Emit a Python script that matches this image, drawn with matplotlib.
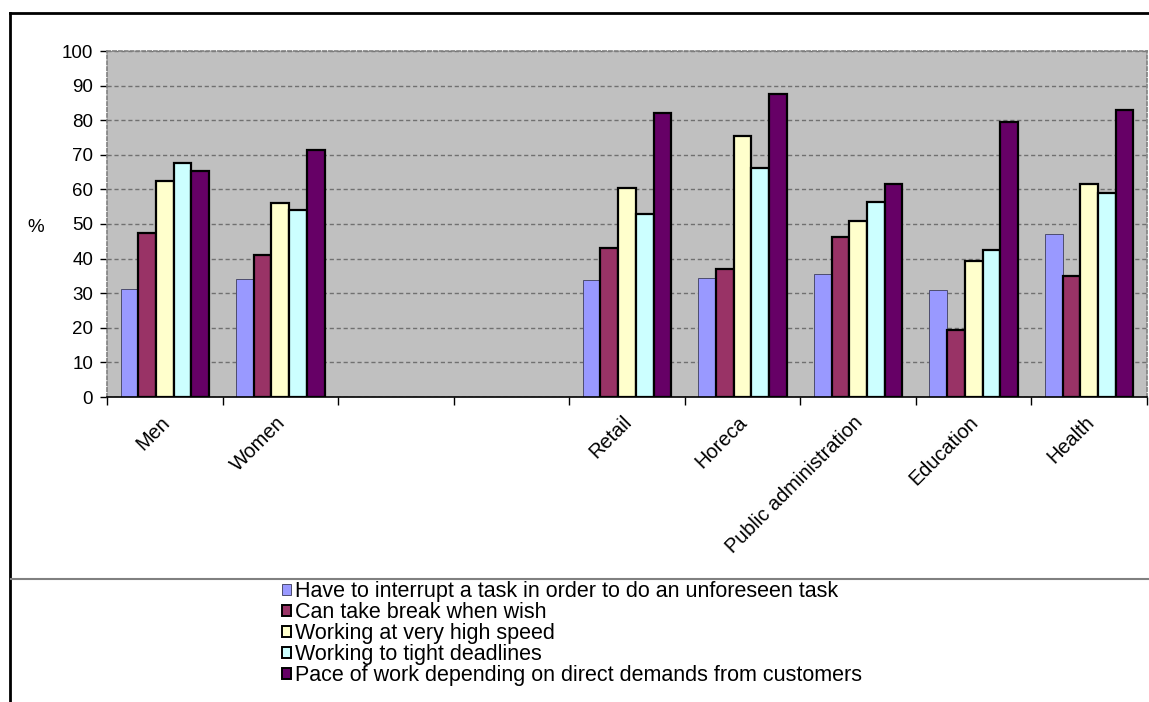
import numpy as np
import matplotlib
matplotlib.use("Agg")
import matplotlib.pyplot as plt
import matplotlib.transforms as mtransforms
from matplotlib.lines import Line2D
from matplotlib.patches import Patch

plt.rcParams['font.family'] = ['Liberation Sans', 'DejaVu Sans']

categories = ['Men', 'Women', '', '', 'Retail', 'Horeca',
              'Public administration', 'Education', 'Health']
series_names = [
    'Have to interrupt a task in order to do an unforeseen task',
    'Can take break when wish',
    'Working at very high speed',
    'Working to tight deadlines',
    'Pace of work depending on direct demands from customers',
]
nan = np.nan
interrupt = [31.1, 34.2, nan, nan, 33.9, 34.5, 35.5, 30.8, 47.1]
take_break = [47.4, 40.9, nan, nan, 43.0, 36.9, 46.2, 19.3, 35.1]
high_speed = [62.3, 56.0, nan, nan, 60.3, 75.3, 51.0, 39.2, 61.7]
deadlines = [67.5, 54.1, nan, nan, 52.8, 66.1, 56.4, 42.6, 58.9]
customers = [65.3, 71.4, nan, nan, 82.1, 87.6, 61.6, 79.5, 82.9]
yticks = list(range(0, 101, 10))

series = [interrupt, take_break, high_speed, deadlines, customers]
colors = ['#9999FF', '#993366', '#FFFFCC', '#CCFFFF', '#660066']
edgecolors = ['#4d4d6e', 'black', 'black', 'black', 'black']
edgewidths = [0.7, 1.6, 1.6, 1.6, 1.6]

W, H = 1149, 702
fig = plt.figure(figsize=(W / 100, H / 100), dpi=100)
fig.patch.set_facecolor('white')

ax = fig.add_axes([107 / W, 1 - 397 / H, (1147 - 107) / W, (397 - 51) / H])
ax.set_facecolor('#C0C0C0')

x = np.arange(len(categories))
bw = 0.153
for i, (vals, c, ec, lw) in enumerate(zip(series, colors, edgecolors, edgewidths)):
    ax.bar(x + (i - 2) * bw, vals, width=bw, color=c, edgecolor=ec,
           linewidth=lw, label=series_names[i], zorder=3)

ax.set_xlim(-0.5, len(categories) - 0.5)
ax.set_ylim(0, 100)
ax.set_yticks(yticks)
ax.set_yticklabels([str(v) for v in yticks], fontsize=13.5)
ax.tick_params(axis='y', direction='out', length=5, width=1, color='black', pad=5)

ax.set_xticks(x)
ax.set_xticklabels(categories, fontsize=14.4, rotation=45,
                   ha='right', va='center', rotation_mode='anchor')
ax.tick_params(axis='x', which='major', length=0, pad=16)
offset = mtransforms.ScaledTranslation(2 / 100, 0, fig.dpi_scale_trans)
for lab in ax.get_xticklabels():
    lab.set_transform(lab.get_transform() + offset)
ax.set_xticks(np.arange(len(categories) + 1) - 0.5, minor=True)
ax.tick_params(axis='x', which='minor', direction='out', length=6, width=1, color='black')

ax.grid(axis='y', color='#707070', linestyle=(0, (3, 2)), linewidth=1, zorder=1)
ax.set_axisbelow(True)

for s in ['top', 'right', 'left']:
    ax.spines[s].set_color('#808080')
    ax.spines[s].set_linestyle((0, (2, 1.5)))
    ax.spines[s].set_linewidth(1.2)
ax.spines['bottom'].set_color('black')
ax.spines['bottom'].set_linewidth(1.2)
ax.spines['bottom'].set_zorder(4)

fig.text(36 / W, 1 - 227 / H, '%', fontsize=13.5, ha='center', va='center')

# figure frame lines
fig.add_artist(Line2D([10 / W, 1], [1 - 13 / H, 1 - 13 / H], color='black', lw=2))
fig.add_artist(Line2D([10 / W, 10 / W], [0, 1 - 13 / H], color='black', lw=2))
fig.add_artist(Line2D([11 / W, 1], [1 - 579 / H, 1 - 579 / H], color='#808080', lw=1.5))

handles = [Patch(facecolor=c, edgecolor=ec, linewidth=lw)
           for c, ec, lw in zip(colors, edgecolors, [0.7, 1.4, 1.4, 1.4, 1.4])]
fig.legend(handles, series_names, loc='upper left',
           bbox_to_anchor=(282 / W, 1 - 581 / H), frameon=False,
           fontsize=15.5, handlelength=0.4, handleheight=0.4,
           handletextpad=0.2, labelspacing=0.0, borderpad=0, borderaxespad=0)

fig.savefig('out.png', dpi=100)
